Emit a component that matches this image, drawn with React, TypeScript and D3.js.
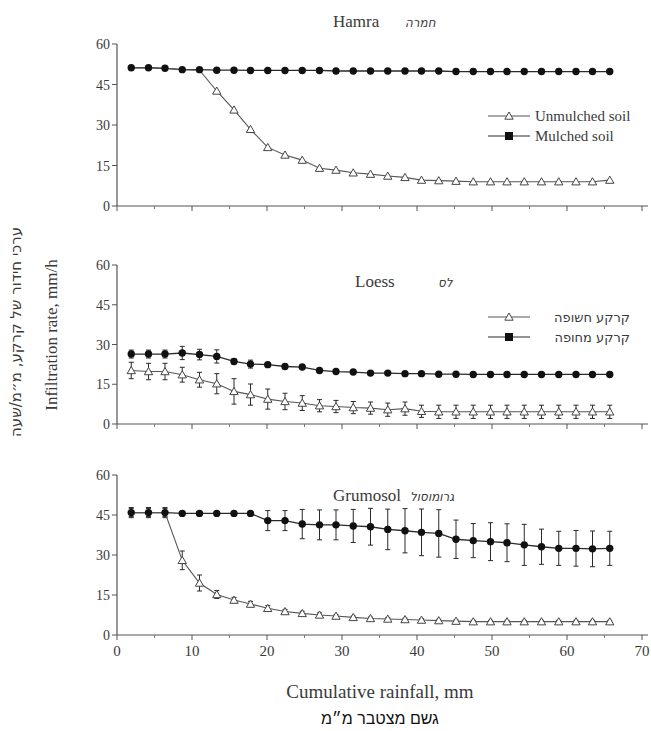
import React from "react";
import * as d3 from "d3";

// cumulative rainfall (mm) at each measurement
const rainfall = [1.9, 4.2, 6.4, 8.7, 11.0, 13.3, 15.6, 17.8, 20.1, 22.4, 24.7, 27.0, 29.2, 31.5, 33.8, 36.1, 38.4, 40.6, 42.9, 45.2, 47.5, 49.8, 52.0, 54.3, 56.6, 58.9, 61.2, 63.4, 65.7];

const hamraUnmulched = [51.2, 51.2, 51.0, 50.5, 50.3, 42.6, 35.6, 28.4, 21.7, 18.9, 17.0, 14.0, 13.3, 12.3, 11.8, 11.1, 10.6, 9.6, 9.4, 9.2, 9.0, 9.0, 9.0, 9.0, 9.0, 9.0, 9.0, 9.0, 9.6];
const hamraMulched = [51.2, 51.2, 51.0, 50.5, 50.5, 50.3, 50.3, 50.2, 50.2, 50.2, 50.2, 50.2, 50.0, 50.0, 50.0, 50.0, 50.0, 50.0, 50.0, 49.8, 49.8, 49.8, 49.8, 49.8, 49.8, 49.8, 49.8, 49.8, 49.8];

const loessUnmulched = [20.2, 19.8, 19.8, 18.6, 16.7, 15.2, 12.3, 11.1, 9.4, 8.5, 7.9, 6.9, 6.6, 6.2, 6.0, 5.4, 5.8, 4.8, 4.6, 4.6, 4.6, 4.6, 4.6, 4.6, 4.6, 4.6, 4.6, 4.6, 4.6];
const loessUnmulchedErr = [3.1, 3.1, 3.1, 2.8, 2.8, 3.8, 4.8, 4.0, 3.8, 3.1, 2.8, 2.3, 2.3, 2.3, 2.3, 2.5, 2.5, 2.3, 2.5, 2.5, 2.5, 2.5, 2.5, 2.5, 2.5, 2.5, 2.5, 2.5, 2.5];
const loessMulched = [26.4, 26.4, 26.4, 26.8, 26.2, 25.5, 23.6, 22.6, 22.4, 21.7, 21.5, 20.2, 19.8, 19.6, 19.2, 19.2, 19.0, 19.0, 18.8, 18.8, 18.7, 18.7, 18.7, 18.7, 18.7, 18.7, 18.7, 18.7, 18.7];
const loessMulchedErr = [1.5, 1.5, 1.5, 2.5, 2.0, 2.5, 1.0, 1.5, 0.8, 0.8, 0.5, 0.5, 0.5, 0.5, 0.5, 0.5, 0.5, 0.5, 0.5, 0.5, 0.5, 0.5, 0.5, 0.5, 0.5, 0.5, 0.5, 0.5, 0.5];

const grumUnmulched = [45.9, 45.9, 45.9, 28.0, 19.5, 15.2, 13.1, 11.6, 10.0, 8.8, 8.1, 7.5, 7.1, 6.6, 6.2, 6.0, 5.8, 5.6, 5.4, 5.2, 5.0, 5.0, 5.0, 5.0, 5.0, 5.0, 5.0, 5.0, 5.0];
const grumUnmulchedErr = [1.5, 1.5, 1.5, 3.5, 3.0, 1.5, 1.0, 1.0, 1.0, 0.8, 0.8, 0.8, 0.5, 0.5, 0.5, 0.5, 0.5, 0.5, 0.5, 0.5, 0.5, 0.5, 0.5, 0.5, 0.5, 0.5, 0.5, 0.5, 0.5];
const grumMulched = [45.9, 45.9, 45.9, 45.6, 45.6, 45.6, 45.6, 45.6, 42.9, 42.9, 41.6, 41.3, 41.3, 40.9, 40.6, 39.6, 39.1, 38.5, 38.1, 35.9, 35.4, 35.0, 34.6, 33.8, 33.1, 32.5, 32.5, 32.3, 32.5];
const grumMulchedErr = [1.9, 1.9, 1.9, 0, 0, 0, 0, 0, 3.75, 3.75, 5.5, 5.6, 5.6, 6.2, 6.9, 7.6, 8.3, 8.75, 8.9, 7.2, 6.4, 7.1, 7.1, 7.7, 6.6, 6.4, 6.7, 6.7, 6.4];

const yTicks = [0, 15, 30, 45, 60];
const xTicks = [0, 10, 20, 30, 40, 50, 60, 70];
const xMinorTicks = [5, 15, 25, 35, 45, 55, 65];

const hamraLegend = ["Unmulched soil", "Mulched soil"];
const loessLegend = ["קרקע חשופה", "קרקע מחופה"];

const W = 651;
const H = 731;
const INK = "#2a2a2a";
const TXT = "#3a3a3a";
const SERIF = "'Liberation Serif', 'Times New Roman', serif";
const HEB = "'DejaVu Sans', 'Liberation Sans', sans-serif";

const x = d3.scaleLinear().domain([0, 70]).range([117, 642]);

const panels = [
  {
    top: 44, bottom: 206, title: "Hamra", titleX: 333, heb: "חמרה", hebX: 405, titleY: 27,
    unmulched: hamraUnmulched, unmulchedErr: null, mulched: hamraMulched, mulchedErr: null,
    legend: hamraLegend, legendY: 116, legendHeb: false, xLabels: false,
  },
  {
    top: 265, bottom: 424, title: "Loess", titleX: 355, heb: "לס", hebX: 438, titleY: 287,
    unmulched: loessUnmulched, unmulchedErr: loessUnmulchedErr, mulched: loessMulched, mulchedErr: loessMulchedErr,
    legend: loessLegend, legendY: 317, legendHeb: true, xLabels: false,
  },
  {
    top: 475, bottom: 635, title: "Grumosol", titleX: 333, heb: "גרומוסול", hebX: 410, titleY: 501,
    unmulched: grumUnmulched, unmulchedErr: grumUnmulchedErr, mulched: grumMulched, mulchedErr: grumMulchedErr,
    legend: null, legendY: 0, legendHeb: false, xLabels: true,
  },
];

const triangle = d3.symbol().type(d3.symbolTriangle).size(30)();

function ErrorBars({ values, errs, y }) {
  if (!errs) return null;
  return (
    <g stroke={INK} strokeWidth={1}>
      {values.map((v, i) => {
        const e = errs[i];
        if (!e) return null;
        const cx = x(rainfall[i]);
        const y1 = y(v + e);
        const y2 = y(v - e);
        return (
          <g key={i}>
            <line x1={cx} x2={cx} y1={y1} y2={y2} />
            <line x1={cx - 2.5} x2={cx + 2.5} y1={y1} y2={y1} />
            <line x1={cx - 2.5} x2={cx + 2.5} y1={y2} y2={y2} />
          </g>
        );
      })}
    </g>
  );
}

function Panel({ p }) {
  const y = d3.scaleLinear().domain([0, 60]).range([p.bottom, p.top]);
  const line = d3.line<number>().x((d, i) => x(rainfall[i])).y((d) => y(d));
  return (
    <g>
      {/* axes */}
      <line x1={x(0)} x2={x(0)} y1={y(0)} y2={y(60)} stroke="#555" strokeWidth={1.2} />
      <line x1={x(0)} x2={x(70) + 6} y1={y(0)} y2={y(0)} stroke="#555" strokeWidth={1.2} />
      {yTicks.map((t) => (
        <g key={t}>
          <line x1={x(0) - 5} x2={x(0)} y1={y(t)} y2={y(t)} stroke="#555" />
          <text x={x(0) - 7} y={y(t) + 5} textAnchor="end" fontSize={14} fontFamily={SERIF} fill={TXT}>{t}</text>
        </g>
      ))}
      {xTicks.map((t) => (
        <g key={t}>
          <line x1={x(t)} x2={x(t)} y1={y(0)} y2={y(0) + 5} stroke="#555" />
          {p.xLabels && (
            <text x={x(t)} y={y(0) + 21} textAnchor="middle" fontSize={15} fontFamily={SERIF} fill={TXT}>{t}</text>
          )}
        </g>
      ))}
      {xMinorTicks.map((t) => (
        <line key={t} x1={x(t)} x2={x(t)} y1={y(0)} y2={y(0) + 3} stroke="#777" />
      ))}

      {/* title */}
      <text x={p.titleX} y={p.titleY} fontSize={17} fontFamily={SERIF} fill={TXT}>{p.title}</text>
      <text x={p.hebX} y={p.titleY} fontSize={12} fontFamily={HEB} fontStyle="italic" fill={TXT}>{p.heb}</text>

      {/* error bars */}
      <ErrorBars values={p.mulched} errs={p.mulchedErr} y={y} />
      <ErrorBars values={p.unmulched} errs={p.unmulchedErr} y={y} />

      {/* lines */}
      <path d={line(p.mulched) || ""} fill="none" stroke={INK} strokeWidth={1.3} />
      <path d={line(p.unmulched) || ""} fill="none" stroke="#555" strokeWidth={1.1} />

      {/* markers (unmulched hidden where it sits under the mulched marker) */}
      {p.mulched.map((v, i) => (
        <circle key={"m" + i} cx={x(rainfall[i])} cy={y(v)} r={3.7} fill="#111" />
      ))}
      {p.unmulched.map((v, i) =>
        Math.abs(v - p.mulched[i]) < 0.6 ? null : (
          <path key={"u" + i} d={triangle} transform={`translate(${x(rainfall[i])},${y(v) + 0.8})`} fill="#fff" stroke="#444" strokeWidth={1} />
        )
      )}

      {/* legend */}
      {p.legend && p.legend.map((label, k) => {
        const ly = p.legendY + k * 20;
        return (
          <g key={label}>
            <line x1={488} x2={530} y1={ly} y2={ly} stroke={k === 0 ? "#555" : INK} strokeWidth={1.1} />
            {k === 0 ? (
              <path d={triangle} transform={`translate(509,${ly + 0.8})`} fill="#fff" stroke="#444" />
            ) : (
              <rect x={505} y={ly - 4} width={8} height={8} fill="#111" />
            )}
            {p.legendHeb ? (
              <text x={630} y={ly + 5} textAnchor="end" fontSize={13} fontFamily={HEB} fill={TXT}>{label}</text>
            ) : (
              <text x={535} y={ly + 5} fontSize={15} fontFamily={SERIF} fill={TXT}>{label}</text>
            )}
          </g>
        );
      })}
    </g>
  );
}

export default function App() {
  return (
    <svg width={W} height={H} style={{ position: "absolute", left: 0, top: 0, background: "#fff" }}>
      <rect width={W} height={H} fill="#fff" />
      {panels.map((p) => (
        <Panel key={p.title} p={p} />
      ))}
      <text transform="translate(57,335) rotate(-90)" textAnchor="middle" fontSize={17} fontFamily={SERIF} fill={TXT}>
        Infiltration rate, mm/h
      </text>
      <text transform="translate(21,332) rotate(-90)" textAnchor="middle" fontSize={15} fontFamily={HEB} fill={TXT}>
        ערכי חידור של קרקע, מ״מ/שעה
      </text>
      <text x={380} y={698} textAnchor="middle" fontSize={19} fontFamily={SERIF} fill={TXT}>
        Cumulative rainfall, mm
      </text>
      <text x={380} y={724} textAnchor="middle" fontSize={16} fontFamily="'Liberation Sans', Arial, sans-serif" fill="#111">
        גשם מצטבר מ״מ
      </text>
    </svg>
  );
}
